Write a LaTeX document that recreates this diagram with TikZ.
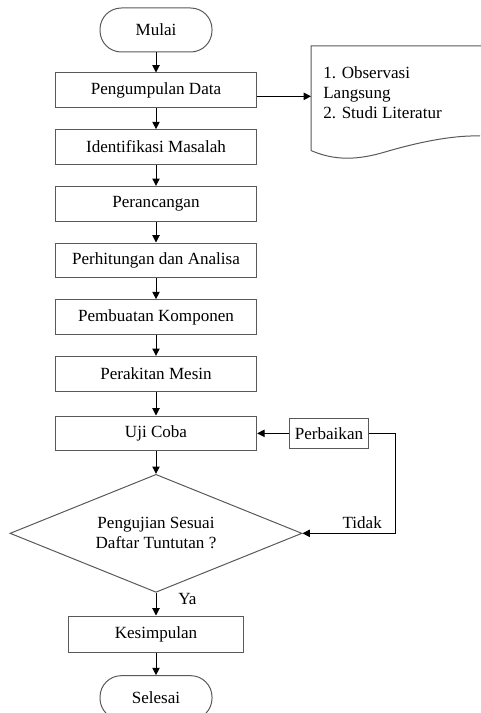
\documentclass[tikz,border=0pt]{standalone}
\usepackage{fontspec}
\setmainfont{Liberation Serif}
\usetikzlibrary{positioning,shapes.geometric,arrows.meta}

\begin{document}
\begin{tikzpicture}[
  x=0.75pt, y=-0.75pt,
  txt/.style={font=\fontsize{12.8}{15}\selectfont},
  box/.style={
    draw=black!65, line width=0.75pt,
    minimum width=151pt, minimum height=26pt,
    inner sep=1pt, txt
  },
  term/.style={
    draw=black!65, line width=0.75pt, rounded corners=16pt,
    minimum width=84pt, minimum height=33pt, txt
  },
  decision/.style={
    diamond, draw=black!65, line width=0.75pt, aspect=2.5,
    minimum width=219pt, minimum height=88.5pt,
    inner sep=0pt, align=center, txt
  },
  arr/.style={-{Triangle[length=5.5pt,width=5.5pt]}, line width=0.75pt},
  outline/.style={draw=black!65, line width=0.75pt}
]
\useasboundingbox (0,0) rectangle (480,713);
\def\gap{15.75pt} % gap between the boxes

% --- Start ---
\node[term] (mulai) at (156,30) {Mulai};

% --- Steps ---
\foreach \t [count=\i] in {Pengumpulan Data,Identifikasi Masalah,Perancangan,Perhitungan dan Analisa,Pembuatan Komponen,Perakitan Mesin} {
  \ifnum\i=1
    \node[box, below=15pt of mulai] (b\i) {\t};
  \else
    \node[box, below=\gap of b\the\numexpr\i-1\relax] (b\i) {\t};
  \fi
}
\node[box, below=18pt of b6] (uji) {Uji Coba};
\node[decision, below=17pt of uji] (cek) {Pengujian Sesuai\\Daftar Tuntutan ?};
\node[box, minimum width=131pt, minimum height=27pt, below=17pt of cek] (kes) {Kesimpulan};
\node[term, below=17pt of kes] (selesai) {Selesai};

% --- Repair ---
\node[box, minimum width=59pt, minimum height=23pt, right=24pt of uji] (perb) {Perbaikan};

% --- Data sources ---
\node[minimum width=127pt, minimum height=78pt, inner sep=0pt, anchor=north west] (doc) at (311,46) {};
\node[txt, align=left, inner sep=0pt, anchor=north west] (docTxt) at (323,66) {1. Observasi\\Langsung\\2. Studi Literatur};
\draw[outline] (doc.north east) -- (doc.north west) -- (doc.south west)
  .. controls (335,161) and (358,160) .. (385,152)
  .. controls (412,144) and (450,135) .. (480,136);

% --- Arrows ---
\draw[arr] (mulai) -- (b1);
\foreach \i [count=\j from 2] in {1,...,5} {
  \draw[arr] (b\i) -- (b\j);
}
\draw[arr] (b6) -- (uji);
\draw[arr] (uji) -- (cek);
\draw[arr] (cek) -- node[txt, pos=0.25, anchor=west, xshift=13pt] {Ya} (kes);
\draw[arr] (kes) -- (selesai);

\coordinate (dout) at ([yshift=-4.5pt]b1.east);
\draw[arr] (dout) -- (dout -| doc.west);
\draw[arr] (perb.west) -- (perb.west -| uji.east);
\draw[arr] (perb.east) -- ++(27,0) |- node[txt, pos=0.68, above] {Tidak} (cek.east);

\end{tikzpicture}
\end{document}
